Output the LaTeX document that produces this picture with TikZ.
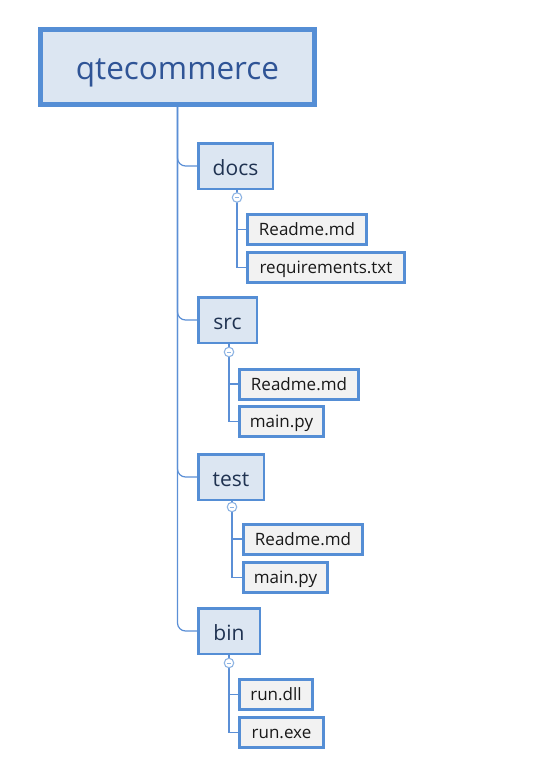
\documentclass[tikz,border=0pt]{standalone}
\usepackage{fontspec}
\setmainfont{Open Sans}
\usepackage{tikz}
\usetikzlibrary{calc}

\definecolor{boxblue}{HTML}{558ED5}
\definecolor{lineblue}{HTML}{5B8FD6}
\definecolor{togblue}{HTML}{8EB4E3}
\definecolor{folderfill}{HTML}{DCE6F2}
\definecolor{leaffill}{HTML}{F2F2F2}
\definecolor{roottext}{HTML}{2F5496}
\definecolor{foldertext}{HTML}{1F3251}

\tikzset{
  rootbox/.style={draw=boxblue,line width=5pt,fill=folderfill,text=roottext,
    font=\fontsize{31.5}{36}\selectfont,minimum width=274pt,minimum height=75pt,
    text height=24pt,text depth=0pt},
  folder/.style={draw=boxblue,line width=2.5pt,fill=folderfill,text=foldertext,
    font=\fontsize{21}{25}\selectfont,minimum height=45.5pt,inner sep=0pt,
    text height=18pt,text depth=0pt},
  leaf/.style={draw=boxblue,line width=3pt,fill=leaffill,text=black!90,
    font=\fontsize{17}{20}\selectfont,minimum height=30pt,inner sep=0pt,
    text height=12pt,text depth=0pt},
  toggle/.style={circle,draw=togblue,fill=white,line width=1.1pt,
    minimum size=9.5pt,inner sep=0pt,path picture={
      \draw[togblue,line width=1pt] ($(path picture bounding box.west)+(2.4pt,0)$)
        -- ($(path picture bounding box.east)-(2.4pt,0)$);}},
  branch/.style={draw=lineblue,line width=1.2pt,rounded corners=8pt},
  twig/.style={draw=lineblue,line width=1.2pt}
}

\begin{document}
\begin{tikzpicture}[x=1pt,y=-1pt]
\useasboundingbox (0,0) rectangle (536,771);

% root
\node[rootbox] (root) at (177.5,67) {qtecommerce};

% folders
\node[folder,minimum width=74.5pt] (docs) at (235.5,166) {docs};
\node[folder,minimum width=58.5pt] (src) at (227.5,320) {src};
\node[folder,minimum width=65.5pt] (test) at (231,477) {test};
\node[folder,minimum width=61.5pt] (bin) at (229,631) {bin};

% trunk
\foreach \f in {docs,src,test,bin}
  \draw[branch] (root.south) |- (\f.west);

% files
\node[leaf,minimum width=119pt] (docsA) at (307,229.5) {Readme.md};
\node[leaf,minimum width=157pt] (docsB) at (326,267.5) {requirements.txt};
\node[leaf,minimum width=119pt] (srcA) at (299,384) {Readme.md};
\node[leaf,minimum width=84pt] (srcB) at (281.5,421.5) {main.py};
\node[leaf,minimum width=119pt] (testA) at (303,539) {Readme.md};
\node[leaf,minimum width=84pt] (testB) at (285.5,577.5) {main.py};
\node[leaf,minimum width=73pt] (binA) at (276,694.5) {run.dll};
\node[leaf,minimum width=84pt] (binB) at (281.5,732.5) {run.exe};

% twigs
\coordinate (docsT) at (237,197.5);
\coordinate (srcT) at (229,352);
\coordinate (testT) at (232,507);
\coordinate (binT) at (229,663);
\foreach \f in {docs,src,test,bin}{
  \draw[twig] (\f T |- \f.south) -- (\f T);
  \draw[twig] (\f T) |- (\f A.west);
  \draw[twig] (\f T) |- (\f B.west);
  \node[toggle] at (\f T) {};
}
\end{tikzpicture}
\end{document}
